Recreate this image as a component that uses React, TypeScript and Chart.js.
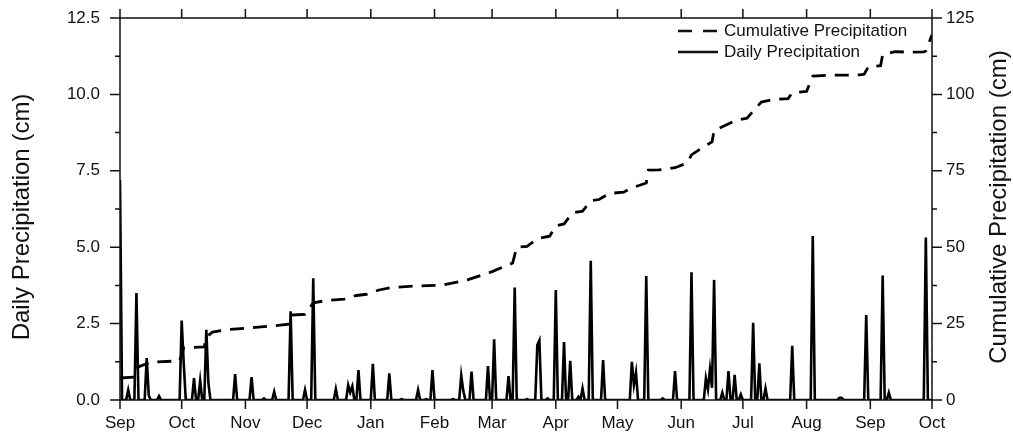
import { useEffect, useRef } from 'react';
import { Chart, registerables } from 'chart.js';

Chart.register(...registerables);

// Day offsets (days since Sep 1) of the month ticks and their labels
const monthDays = [0, 30, 61, 91, 122, 153, 181, 212, 242, 273, 303, 334, 365, 395];
const monthLabels = ['Sep', 'Oct', 'Nov', 'Dec', 'Jan', 'Feb', 'Mar', 'Apr', 'May', 'Jun', 'Jul', 'Aug', 'Sep', 'Oct'];
const totalDays = 395;

// Daily precipitation (cm): days with rain and the amount; all other days are 0
const rainDays = [0, 4, 8, 13, 14, 19, 30, 31, 36, 39, 42, 43, 56, 64, 70, 75, 83, 90, 94, 105, 111, 112, 113, 116, 123, 131, 137, 145, 149, 152, 162, 166, 167, 171, 179, 182, 189, 192, 198, 203, 204, 208, 212, 216, 219, 223, 225, 229, 235, 249, 250, 251, 256, 264, 270, 278, 285, 286, 287, 288, 289, 293, 296, 299, 302, 308, 311, 314, 327, 337, 350, 351, 363, 371, 374, 392];
const rainValues = [7.2, 0.33, 3.5, 1.37, 0.15, 0.13, 2.6, 1.2, 0.72, 0.63, 2.3, 0.55, 0.85, 0.75, 0.05, 0.27, 2.9, 0.33, 3.98, 0.36, 0.49, 0.25, 0.45, 0.98, 1.18, 0.87, 0.03, 0.33, 0.03, 0.98, 0.03, 0.8, 0.3, 0.93, 1.11, 1.99, 0.78, 3.68, 0.03, 1.8, 1.95, 0.05, 3.6, 1.9, 1.28, 0.1, 0.38, 4.56, 1.31, 1.25, 0.5, 0.9, 4.06, 0.05, 0.95, 4.18, 0.71, 0.35, 1.01, 0.4, 3.93, 0.24, 0.95, 0.82, 0.18, 2.53, 1.2, 0.38, 1.77, 5.37, 0.07, 0.07, 2.78, 4.07, 0.24, 5.32];

// Cumulative precipitation (cm) read at points along the dashed curve
const cumDays = [0, 7, 8, 15, 29, 31, 41, 42, 45, 52, 62, 78, 82, 83, 90, 94, 100, 109, 115, 120, 126, 132, 144, 157, 169, 181, 191, 193, 198, 203, 209, 212, 216, 220, 225, 229, 233, 238, 245, 249, 256, 257, 262, 270, 276, 278, 282, 288, 289, 293, 300, 305, 308, 312, 318, 325, 327, 334, 337, 346, 354, 360, 362, 364, 370, 371, 377, 384, 391, 392, 395];
const cumValues = [7.2, 7.5, 10.6, 12.4, 12.8, 17.0, 17.4, 20.6, 22.2, 23.0, 23.5, 24.5, 24.8, 27.8, 28.0, 31.8, 32.5, 33.0, 34.2, 34.6, 36.0, 36.8, 37.3, 37.6, 39.3, 42.0, 44.8, 50.0, 50.3, 52.8, 53.6, 57.0, 57.6, 61.2, 61.8, 65.2, 65.6, 67.6, 68.0, 69.4, 71.0, 75.2, 75.3, 76.0, 77.6, 80.2, 82.0, 84.5, 88.2, 89.4, 91.6, 92.2, 94.5, 97.5, 98.4, 98.6, 100.5, 101.0, 106.0, 106.3, 106.3, 106.4, 106.6, 109.0, 109.4, 113.0, 114.0, 113.8, 113.9, 114.2, 119.5];

// Axis ticks
const dailyMajorTicks = [0, 2.5, 5, 7.5, 10, 12.5];
const dailyMinorTicks = [1.25, 3.75, 6.25, 8.75, 11.25];
const cumMajorTicks = [0, 25, 50, 75, 100, 125];
const cumMinorTicks = [12.5, 37.5, 62.5, 87.5, 112.5];

const FONT = '"Liberation Sans", Arial, Helvetica, sans-serif';
const INK = '#111';

export default function App() {
  const ref = useRef<HTMLCanvasElement | null>(null);

  useEffect(() => {
    if (!ref.current) return;
    const daily: { x: number; y: number }[] = [];
    for (let d = 0; d <= totalDays; d++) daily.push({ x: d, y: 0 });
    rainDays.forEach((d, i) => {
      daily[d].y = rainValues[i];
    });
    const cumulative = cumDays.map((d, i) => ({ x: d, y: cumValues[i] }));

    const framePlugin = {
      id: 'frame',
      afterDraw(chart: any) {
        const { ctx, chartArea: a, scales } = chart;
        const xs = scales.x;
        const ys = scales.y;
        const y1 = scales.y1;
        ctx.save();
        ctx.strokeStyle = INK;
        ctx.lineWidth = 1.5;
        ctx.setLineDash([]);
        ctx.strokeRect(a.left, a.top, a.right - a.left, a.bottom - a.top);
        ctx.beginPath();
        monthDays.forEach((d) => {
          const px = xs.getPixelForValue(d);
          ctx.moveTo(px, a.bottom);
          ctx.lineTo(px, a.bottom + 9);
          ctx.moveTo(px, a.top);
          ctx.lineTo(px, a.top - 9);
        });
        dailyMajorTicks.forEach((v) => {
          const py = ys.getPixelForValue(v);
          ctx.moveTo(a.left, py);
          ctx.lineTo(a.left - 10, py);
        });
        dailyMinorTicks.forEach((v) => {
          const py = ys.getPixelForValue(v);
          ctx.moveTo(a.left, py);
          ctx.lineTo(a.left - 5, py);
        });
        cumMajorTicks.forEach((v) => {
          const py = y1.getPixelForValue(v);
          ctx.moveTo(a.right, py);
          ctx.lineTo(a.right + 10, py);
        });
        cumMinorTicks.forEach((v) => {
          const py = y1.getPixelForValue(v);
          ctx.moveTo(a.right, py);
          ctx.lineTo(a.right + 5, py);
        });
        ctx.stroke();

        // Axis titles
        const midY = (a.top + a.bottom) / 2;
        ctx.fillStyle = INK;
        ctx.font = `24px ${FONT}`;
        ctx.textAlign = 'center';
        ctx.textBaseline = 'middle';
        ctx.save();
        ctx.translate(22, midY + 8);
        ctx.rotate(-Math.PI / 2);
        ctx.fillText('Daily Precipitation (cm)', 0, 0);
        ctx.restore();
        ctx.save();
        ctx.translate(999, midY - 2);
        ctx.rotate(-Math.PI / 2);
        ctx.fillText('Cumulative Precipitation (cm)', 0, 0);
        ctx.restore();

        // Legend
        const lx = a.right - 254;
        const ly1 = a.top + 13;
        const ly2 = a.top + 34;
        ctx.lineWidth = 2.5;
        ctx.setLineDash([14, 11]);
        ctx.beginPath();
        ctx.moveTo(lx, ly1);
        ctx.lineTo(lx + 40, ly1);
        ctx.stroke();
        ctx.setLineDash([]);
        ctx.beginPath();
        ctx.moveTo(lx, ly2);
        ctx.lineTo(lx + 40, ly2);
        ctx.stroke();
        ctx.font = `17px ${FONT}`;
        ctx.textAlign = 'left';
        ctx.fillText('Cumulative Precipitation', lx + 46, ly1);
        ctx.fillText('Daily Precipitation', lx + 46, ly2);
        ctx.restore();
      },
    };

    const chart = new Chart(ref.current, {
      type: 'line',
      data: {
        datasets: [
          {
            label: 'Daily Precipitation',
            data: daily,
            yAxisID: 'y',
            borderColor: '#000',
            borderWidth: 2.6,
            pointRadius: 0,
            tension: 0,
            fill: false,
          },
          {
            label: 'Cumulative Precipitation',
            data: cumulative,
            yAxisID: 'y1',
            borderColor: '#000',
            borderWidth: 2.8,
            borderDash: [14, 9],
            pointRadius: 0,
            tension: 0,
            fill: false,
          },
        ],
      },
      options: {
        animation: false,
        responsive: false,
        maintainAspectRatio: false,
        layout: { padding: { top: 18, left: 0, right: 0, bottom: 0 } },
        plugins: {
          legend: { display: false },
          tooltip: { enabled: false },
        },
        scales: {
          x: {
            type: 'linear',
            min: 0,
            max: totalDays,
            grid: { display: false, drawTicks: true, tickLength: 13 },
            border: { display: false },
            afterBuildTicks: (scale: any) => {
              scale.ticks = monthDays.map((v) => ({ value: v }));
            },
            afterFit: (scale: any) => {
              scale.height = 41;
            },
            ticks: {
              autoSkip: false,
              maxRotation: 0,
              padding: 0,
              color: INK,
              font: { family: FONT, size: 17 },
              callback: (_v: any, i: number) => monthLabels[i],
            },
          },
          y: {
            type: 'linear',
            position: 'left',
            min: 0,
            max: 12.5,
            grid: { display: false, drawTicks: true, tickLength: 20 },
            border: { display: false },
            afterBuildTicks: (scale: any) => {
              scale.ticks = dailyMajorTicks.map((v) => ({ value: v }));
            },
            afterFit: (scale: any) => {
              scale.width = 120;
            },
            ticks: {
              padding: 0,
              color: INK,
              font: { family: FONT, size: 17 },
              callback: (v: any) => Number(v).toFixed(1),
            },
          },
          y1: {
            type: 'linear',
            position: 'right',
            min: 0,
            max: 125,
            grid: { display: false, drawTicks: true, tickLength: 14 },
            border: { display: false },
            afterBuildTicks: (scale: any) => {
              scale.ticks = cumMajorTicks.map((v) => ({ value: v }));
            },
            afterFit: (scale: any) => {
              scale.width = 81;
            },
            ticks: {
              padding: 0,
              color: INK,
              font: { family: FONT, size: 17 },
              callback: (v: any) => String(v),
            },
          },
        },
      },
      plugins: [framePlugin],
    });
    return () => chart.destroy();
  }, []);

  return (
    <div style={{ position: 'absolute', left: 0, top: 0, width: 1013, height: 441, background: '#fff' }}>
      <canvas ref={ref} width={1013} height={441} style={{ display: 'block' }} />
    </div>
  );
}
